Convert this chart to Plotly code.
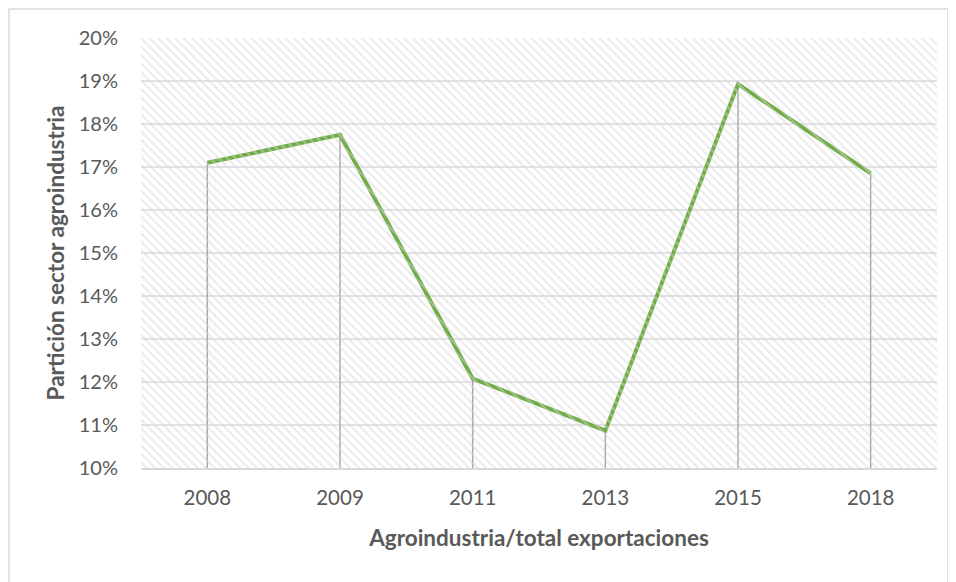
import plotly.graph_objects as go

years = ["2008", "2009", "2011", "2013", "2015", "2018"]
share = [0.1710, 0.1775, 0.1208, 0.1087, 0.1893, 0.1685]
y_min, y_max = 0.10, 0.20
y_ticks = [0.10, 0.11, 0.12, 0.13, 0.14, 0.15, 0.16, 0.17, 0.18, 0.19, 0.20]
x_title = "Agroindustria/total exportaciones"
y_title = "Partición sector agroindustria"

FONT = "Lato"
TXT = "#595959"

# plot area in figure pixels
L, R, T, B = 133, 27, 30, 122
W, H = 956, 582
PW, PH = W - L - R, H - T - B

fig = go.Figure()

# hatched plot background on an overlay axis
fig.add_trace(go.Scatter(
    x=[0, 1, 1, 0, 0], y=[0, 0, 1, 1, 0], xaxis="x2", yaxis="y2",
    mode="none", fill="toself", fillcolor="rgba(0,0,0,0)",
    fillpattern=dict(shape="\\", fgcolor="#d6d6d6", bgcolor="rgba(0,0,0,0)",
                     size=6, solidity=0.35, fillmode="overlay"),
    hoverinfo="skip", showlegend=False,
))

# drop lines
fig.add_trace(go.Scatter(
    x=years, y=share, mode="markers", marker=dict(size=0.1, color="rgba(0,0,0,0)"),
    error_y=dict(type="data", symmetric=False, array=[0] * len(share),
                 arrayminus=[v - y_min for v in share],
                 color="#a6a6a6", thickness=1.5, width=0),
    showlegend=False, hoverinfo="skip",
))

# main line
fig.add_trace(go.Scatter(
    x=years, y=share, mode="lines",
    line=dict(color="#70ad47", width=4),
    showlegend=False,
))

fig.update_layout(
    width=W, height=H,
    margin=dict(l=L, r=R, t=T, b=B),
    paper_bgcolor="white", plot_bgcolor="white",
    font=dict(family=FONT, color=TXT, size=20),
    xaxis=dict(type="category", range=[-0.5, 5.5], showgrid=False,
               showline=True, linecolor="#d9d9d9", linewidth=1.5,
               ticks="", ticklabelstandoff=11, tickfont=dict(size=20.5, color=TXT),
               title=dict(text=x_title, font=dict(size=22.5, color=TXT, family=FONT, weight="bold"),
                          standoff=22),
               zeroline=False),
    yaxis=dict(range=[y_min, y_max], tickvals=y_ticks, tickformat=".0%",
               showgrid=True, gridcolor="#e3e3e3", gridwidth=1.5,
               showline=False, zeroline=False, ticks="", ticklabelstandoff=22,
               tickfont=dict(size=20, color=TXT),
               title=dict(text=y_title, font=dict(size=22.5, color=TXT, family=FONT, weight="bold"),
                          standoff=7)),
    xaxis2=dict(range=[0, 1], overlaying="x", visible=False, fixedrange=True),
    yaxis2=dict(range=[0, 1], overlaying="y", visible=False, fixedrange=True),
    shapes=[dict(type="rect", xref="paper", yref="paper",
                 x0=(1 - L) / PW, x1=(940 - L) / PW,
                 y0=(H - B - 600) / PH, y1=(H - B - 1) / PH,
                 line=dict(color="#d9d9d9", width=1.5), fillcolor="rgba(0,0,0,0)",
                 layer="below")],
)

fig.write_html("out.html")
